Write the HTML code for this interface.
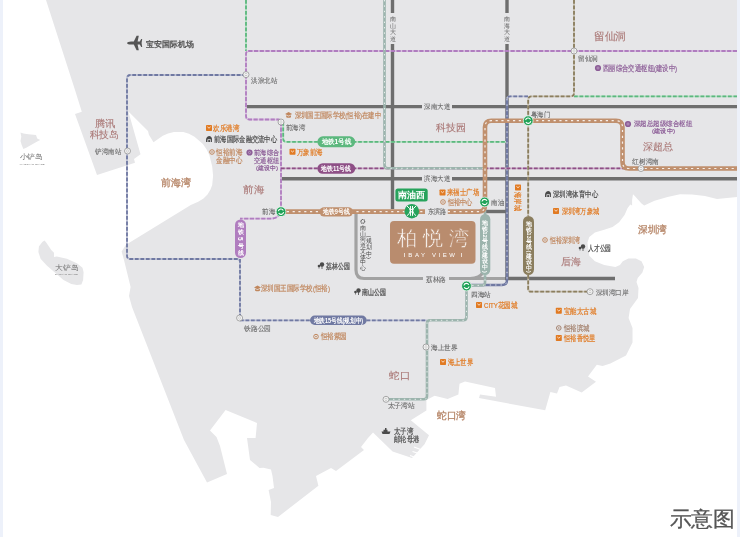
<!DOCTYPE html><html><head><meta charset="utf-8"><style>html,body{margin:0;padding:0;background:#fff;overflow:hidden}svg{display:block;font-family:"Liberation Sans",sans-serif;will-change:transform}</style></head><body><svg width="740" height="537" viewBox="0 0 740 537">
<rect width="740" height="537" fill="#ffffff"/>
<polygon points="46,0 737,0 737,197 717,199 705,196 692,194.5 680,194.3 667.5,197.1 654.5,200.8 644.2,205.5 641.5,203.6 635,196.2 633,194.3 632.1,199.9 632.1,205.5 630.3,204.6 627.5,208.3 624.7,214.8 619.1,222.2 612.6,226.9 604.2,229.7 594.9,232.5 589.3,237.1 587.4,242.7 588.4,249.2 589.3,255.8 594.9,261.3 604.2,265.1 615.4,266.9 620,265.1 622.8,261.3 628.4,258.6 635.9,258.6 641.5,261.3 644.2,266.9 642.4,272.5 637.7,278.1 636.5,282 638.5,288 638,298 630,309 628.6,318 632.5,328 632.5,342.6 626,355.6 610.4,363.4 602.6,366 596.8,364.7 588,376.5 596,381.7 581.7,392.6 566,385.6 559.5,387 557,393.4 550.4,392 545.2,410.3 479,398 480,394.6 496,396.8 495,388 465,381.6 459.5,383.8 458.4,394.6 447.6,399 434.6,395.7 426.4,400 426.4,410.4 410.8,420.2 429,435.2 424.5,444.3 412,458 392.6,451.5 373,432.5 368,438 361,447 364,450 336,471 331,468 316,476 318.4,485.7 278,517 270.7,515 271,502 268.6,490 274,488 272.5,476 271,469.5 263.4,467.7 259.5,468 250,460 247,438 255.6,438 257,423 225.6,410 210,430.4 216.5,437 220,446 227,474 207,482.5 184,440 132,307 129,296 130.6,287 124,260 121.6,251.4 126,244.7 190.8,205 198.2,201.8 203.5,198.5 207.5,194.4 210.5,189.5 212.2,185 213.1,175.8 212.2,166.5 209.4,155.3 206.5,149.3 202.9,144.1 194.5,136.7 189,133.8 183.3,132 174,132 168,133.5 162.8,135.7 153.5,142.2 148.9,134.8 148,131 128.4,111.5 140.5,154.3 134,159 135,162.7 97,175 75,114 81.8,111.8 75,90" fill="#e6e6e8"/>
<polygon points="20.5,132.5 23.4,133.4 28.4,134.2 36,135 37.2,138.4 40.2,140 36.8,141.7 31,145 26.7,147.6 23.4,148.9 21.7,145 20.5,140.9 21.3,136.7" fill="#e6e6e8"/>
<polygon points="44.5,240.4 46.2,242.6 49.6,247.6 51.2,249.9 54,252.7 54,257.1 56.8,256.6 66.9,258.8 76.9,263.3 82.5,267.8 83.6,272.2 83.1,280 81.4,284.5 76.9,285 71.3,284 63.5,280 55.7,273.3 46.8,265.5 40.6,258.8 38.4,252.1 38.9,246.5 42.3,242" fill="#e6e6e8"/>
<line x1="414" y1="447" x2="422" y2="450" stroke="#fff" stroke-width="1.2"/>
<line x1="412.5" y1="451.5" x2="420.5" y2="454" stroke="#fff" stroke-width="1.2"/>
<line x1="410" y1="455.5" x2="418" y2="458.5" stroke="#fff" stroke-width="1.2"/>
<rect x="0" y="0" width="3" height="537" fill="#edf1fa"/>
<rect x="737" y="0" width="3" height="537" fill="#edf1fa"/>
<line x1="392.5" y1="0" x2="392.5" y2="13" stroke="#6e6e6e" stroke-width="3.4"/>
<line x1="392.5" y1="44" x2="392.5" y2="209" stroke="#6e6e6e" stroke-width="3.4"/>
<line x1="507" y1="0" x2="507" y2="13" stroke="#6e6e6e" stroke-width="3.4"/>
<line x1="507" y1="44" x2="507" y2="279" stroke="#6e6e6e" stroke-width="3.4"/>
<line x1="246" y1="106.6" x2="422" y2="106.6" stroke="#6e6e6e" stroke-width="3.4"/>
<line x1="452" y1="106.6" x2="737" y2="106.6" stroke="#6e6e6e" stroke-width="3.4"/>
<line x1="281" y1="178.8" x2="422" y2="178.8" stroke="#6e6e6e" stroke-width="3.4"/>
<line x1="452" y1="178.8" x2="737" y2="178.8" stroke="#6e6e6e" stroke-width="3.4"/>
<line x1="486" y1="211.5" x2="507" y2="211.5" stroke="#6e6e6e" stroke-width="3.4"/>
<line x1="505" y1="278.5" x2="615" y2="278.5" stroke="#6e6e6e" stroke-width="3.4"/>
<path d="M356,214 V270 Q356,278.5 364,278.5 H423 M449,278.5 H505" fill="none" stroke="#a2a2a2" stroke-width="3.2"/>
<path d="M470,278.5 Q480,278.5 483,272" fill="none" stroke="#a2a2a2" stroke-width="3"/>
<path d="M246,0 V51" fill="none" stroke="#b5dfc4" stroke-width="1.8" stroke-linejoin="round"/>
<path d="M246,0 V51" fill="none" stroke="#5cb87e" stroke-width="1.8" stroke-dasharray="3.7 1.8" stroke-linejoin="round"/>
<path d="M737,51 H249 Q246,51 246,54 V116 Q246,119.5 249.5,119.5 H278 Q281,119.5 281,122.5 V208 Q281,218.7 270,218.7 H240" fill="none" stroke="#dbc4e2" stroke-width="1.8" stroke-linejoin="round"/>
<path d="M737,51 H249 Q246,51 246,54 V116 Q246,119.5 249.5,119.5 H278 Q281,119.5 281,122.5 V208 Q281,218.7 270,218.7 H240" fill="none" stroke="#b07dbf" stroke-width="1.8" stroke-dasharray="4.2 1.5" stroke-linejoin="round"/>
<path d="M246,75 H130.5 Q127,75 127,78.5 V255.5 Q127,259 130.5,259 H237 Q240,259 240,262" fill="none" stroke="#bec2d5" stroke-width="1.8" stroke-linejoin="round"/>
<path d="M246,75 H130.5 Q127,75 127,78.5 V255.5 Q127,259 130.5,259 H237 Q240,259 240,262" fill="none" stroke="#7079a2" stroke-width="1.8" stroke-dasharray="3.7 1.8" stroke-linejoin="round"/>
<path d="M240,259 V318 M240,320.3 H427" fill="none" stroke="#bec2d5" stroke-width="1.8" stroke-linejoin="round"/>
<path d="M240,259 V318 M240,320.3 H427" fill="none" stroke="#7079a2" stroke-width="1.8" stroke-dasharray="3.7 1.8" stroke-linejoin="round"/>
<path d="M528,96.4 H510 Q507,96.4 507,99.4" fill="none" stroke="#bec2d5" stroke-width="1.8" stroke-linejoin="round"/>
<path d="M528,96.4 H510 Q507,96.4 507,99.4" fill="none" stroke="#7079a2" stroke-width="1.8" stroke-dasharray="3.7 1.8" stroke-linejoin="round"/>
<path d="M507,99 V280 Q507,285 502,285 H470" fill="none" stroke="#7079a2" stroke-width="2.5" stroke-linejoin="round"/>
<path d="M507,99 V280 Q507,285 502,285 H470" fill="none" stroke="#ffffff" stroke-width="0.9" stroke-dasharray="1.4 4" opacity="0.85"/>
<path d="M283.2,122 V138.8 Q283.2,141.8 286.2,141.8 H506" fill="none" stroke="#b5dfc4" stroke-width="1.8" stroke-linejoin="round"/>
<path d="M283.2,122 V138.8 Q283.2,141.8 286.2,141.8 H506" fill="none" stroke="#5cb87e" stroke-width="1.8" stroke-dasharray="3.7 1.8" stroke-linejoin="round"/>
<path d="M574,96.4 H737" fill="none" stroke="#b5dfc4" stroke-width="1.8" stroke-linejoin="round"/>
<path d="M574,96.4 H737" fill="none" stroke="#5cb87e" stroke-width="1.8" stroke-dasharray="3.7 1.8" stroke-linejoin="round"/>
<path d="M281,168.4 H737" fill="none" stroke="#ccafc8" stroke-width="1.8" stroke-linejoin="round"/>
<path d="M281,168.4 H737" fill="none" stroke="#8e4f86" stroke-width="1.8" stroke-dasharray="3.7 1.8" stroke-linejoin="round"/>
<path d="M384.5,0 V165 Q384.5,168.3 387.8,168.3 H482 Q485,168.3 485,171 V274" fill="none" stroke="#9cb4ad" stroke-width="2.6" stroke-linejoin="round"/>
<path d="M384.5,0 V165 Q384.5,168.3 387.8,168.3 H482 Q485,168.3 485,171 V274" fill="none" stroke="#ffffff" stroke-width="0.9" stroke-dasharray="1.4 4" opacity="0.85"/>
<path d="M485,274 V282.4 Q485,285.4 482,285.4 H466.5 V317 Q466.5,320.3 463.2,320.3 H430 Q427,320.3 427,323.3 V396 Q427,399.3 423.7,399.3 H386" fill="none" stroke="#9cb4ad" stroke-width="2.6" stroke-linejoin="round"/>
<path d="M485,274 V282.4 Q485,285.4 482,285.4 H466.5 V317 Q466.5,320.3 463.2,320.3 H430 Q427,320.3 427,323.3 V396 Q427,399.3 423.7,399.3 H386" fill="none" stroke="#ffffff" stroke-width="0.9" stroke-dasharray="1.4 4" opacity="0.85"/>
<path d="M574,0 V93 Q574,96.4 570.6,96.4 H531.6 Q528.2,96.4 528.2,99.8 V216" fill="none" stroke="#cac4b6" stroke-width="1.8" stroke-linejoin="round"/>
<path d="M574,0 V93 Q574,96.4 570.6,96.4 H531.6 Q528.2,96.4 528.2,99.8 V216" fill="none" stroke="#8b7e5e" stroke-width="1.8" stroke-dasharray="3.7 1.8" stroke-linejoin="round"/>
<path d="M528.2,275 V288.7 Q528.2,291.7 531.2,291.7 H590" fill="none" stroke="#cac4b6" stroke-width="1.8" stroke-linejoin="round"/>
<path d="M528.2,275 V288.7 Q528.2,291.7 531.2,291.7 H590" fill="none" stroke="#8b7e5e" stroke-width="1.8" stroke-dasharray="3.7 1.8" stroke-linejoin="round"/>
<path d="M281,211.6 H425 M447.8,211.6 H478.7 Q485,211.6 485,205.3 V127 Q485,120.7 491.3,120.7 H616 Q622.5,120.7 622.5,127.2 V162 Q622.5,168.5 629,168.5 H737" fill="none" stroke="#c0906e" stroke-width="4.6" stroke-linejoin="round"/>
<path d="M281,211.6 H425 M447.8,211.6 H478.7 Q485,211.6 485,205.3 V127 Q485,120.7 491.3,120.7 H616 Q622.5,120.7 622.5,127.2 V162 Q622.5,168.5 629,168.5 H737" fill="none" stroke="#ffffff" stroke-width="1.2" stroke-dasharray="2.2 3.6" opacity="0.85"/>
<rect x="317.4" y="136.3" width="37.80000000000001" height="11.0" rx="5.5" fill="#5cb87e"/>
<text x="336.29999999999995" y="144.464" font-size="7.2" fill="#fff" text-anchor="middle" textLength="29.6" lengthAdjust="spacingAndGlyphs" font-weight="bold">地铁1号线</text>
<rect x="317.4" y="163.2" width="37.80000000000001" height="10.600000000000023" rx="5.300000000000011" fill="#8e4f86"/>
<text x="336.29999999999995" y="171.164" font-size="7.2" fill="#fff" text-anchor="middle" textLength="29.8" lengthAdjust="spacingAndGlyphs" font-weight="bold">地铁11号线</text>
<rect x="319.5" y="207.2" width="33.5" height="9.300000000000011" rx="4.650000000000006" fill="#c0906e"/>
<text x="336.25" y="214.36599999999999" font-size="6.8" fill="#fff" text-anchor="middle" textLength="26.5" lengthAdjust="spacingAndGlyphs" font-weight="bold">地铁9号线</text>
<rect x="310" y="315.5" width="56.69999999999999" height="9.5" rx="4.75" fill="#7079a2"/>
<text x="338.35" y="322.692" font-size="6.6" fill="#fff" text-anchor="middle" textLength="49.6" lengthAdjust="spacingAndGlyphs" font-weight="bold">地铁15号线(规划中)</text>
<rect x="235" y="219.5" width="11" height="38.5" rx="5.5" fill="#b07dbf"/>
<rect x="480" y="214" width="10.300000000000011" height="61" rx="5.150000000000006" fill="#9cb4ad"/>
<rect x="523" y="216" width="11" height="59" rx="5.5" fill="#8b7e5e"/>
<text x="240.5" y="227.254" font-size="6.4" fill="#fff" text-anchor="middle" font-weight="bold">地</text>
<text x="240.5" y="234.154" font-size="6.4" fill="#fff" text-anchor="middle" font-weight="bold">铁</text>
<text x="240.5" y="238.75" font-size="6.4" fill="#fff" text-anchor="middle" dominant-baseline="central" transform="rotate(90 240.5 238.75)" font-weight="bold">5</text>
<text x="240.5" y="247.954" font-size="6.4" fill="#fff" text-anchor="middle" font-weight="bold">号</text>
<text x="240.5" y="254.854" font-size="6.4" fill="#fff" text-anchor="middle" font-weight="bold">线</text>
<text x="485" y="224.62961797752808" font-size="5.9" fill="#fff" text-anchor="middle" font-weight="bold">地</text>
<text x="485" y="230.64085393258426" font-size="5.9" fill="#fff" text-anchor="middle" font-weight="bold">铁</text>
<text x="485" y="234.52808988764045" font-size="5.9" fill="#fff" text-anchor="middle" dominant-baseline="central" transform="rotate(90 485 234.52808988764045)" font-weight="bold">12</text>
<text x="485" y="242.66332584269662" font-size="5.9" fill="#fff" text-anchor="middle" font-weight="bold">号</text>
<text x="485" y="248.6745617977528" font-size="5.9" fill="#fff" text-anchor="middle" font-weight="bold">线</text>
<text x="485" y="250.90870786516854" font-size="5.9" fill="#fff" text-anchor="middle" dominant-baseline="central" transform="rotate(90 485 250.90870786516854)" font-weight="bold">(</text>
<text x="485" y="257.39085393258426" font-size="5.9" fill="#fff" text-anchor="middle" font-weight="bold">建</text>
<text x="485" y="263.4020898876405" font-size="5.9" fill="#fff" text-anchor="middle" font-weight="bold">设</text>
<text x="485" y="269.4133258426967" font-size="5.9" fill="#fff" text-anchor="middle" font-weight="bold">中</text>
<text x="485" y="271.64747191011236" font-size="5.9" fill="#fff" text-anchor="middle" dominant-baseline="central" transform="rotate(90 485 271.64747191011236)" font-weight="bold">)</text>
<text x="528.5" y="226.04534831460674" font-size="5.9" fill="#fff" text-anchor="middle" font-weight="bold">地</text>
<text x="528.5" y="231.88804494382023" font-size="5.9" fill="#fff" text-anchor="middle" font-weight="bold">铁</text>
<text x="528.5" y="235.60674157303373" font-size="5.9" fill="#fff" text-anchor="middle" dominant-baseline="central" transform="rotate(90 528.5 235.60674157303373)" font-weight="bold">13</text>
<text x="528.5" y="243.57343820224722" font-size="5.9" fill="#fff" text-anchor="middle" font-weight="bold">号</text>
<text x="528.5" y="249.4161348314607" font-size="5.9" fill="#fff" text-anchor="middle" font-weight="bold">线</text>
<text x="528.5" y="251.5280898876405" font-size="5.9" fill="#fff" text-anchor="middle" dominant-baseline="central" transform="rotate(90 528.5 251.5280898876405)" font-weight="bold">(</text>
<text x="528.5" y="257.88804494382026" font-size="5.9" fill="#fff" text-anchor="middle" font-weight="bold">建</text>
<text x="528.5" y="263.73074157303375" font-size="5.9" fill="#fff" text-anchor="middle" font-weight="bold">设</text>
<text x="528.5" y="269.57343820224725" font-size="5.9" fill="#fff" text-anchor="middle" font-weight="bold">中</text>
<text x="528.5" y="271.685393258427" font-size="5.9" fill="#fff" text-anchor="middle" dominant-baseline="central" transform="rotate(90 528.5 271.685393258427)" font-weight="bold">)</text>
<circle cx="246" cy="74.6" r="3" fill="#f6f6f6" stroke="#8e8e8e" stroke-width="0.75"/>
<path d="M244.7,74.0 Q246,72.8 247.3,74.0 M244.7,75.19999999999999 Q246,76.39999999999999 247.3,75.19999999999999" fill="none" stroke="#a8a8a8" stroke-width="0.6"/>
<circle cx="281" cy="122" r="3" fill="#f6f6f6" stroke="#8e8e8e" stroke-width="0.75"/>
<path d="M279.7,121.4 Q281,120.2 282.3,121.4 M279.7,122.6 Q281,123.8 282.3,122.6" fill="none" stroke="#a8a8a8" stroke-width="0.6"/>
<circle cx="127.5" cy="151" r="3" fill="#f6f6f6" stroke="#8e8e8e" stroke-width="0.75"/>
<path d="M126.2,150.4 Q127.5,149.2 128.8,150.4 M126.2,151.6 Q127.5,152.8 128.8,151.6" fill="none" stroke="#a8a8a8" stroke-width="0.6"/>
<circle cx="574" cy="51" r="3" fill="#f6f6f6" stroke="#8e8e8e" stroke-width="0.75"/>
<path d="M572.7,50.4 Q574,49.2 575.3,50.4 M572.7,51.6 Q574,52.8 575.3,51.6" fill="none" stroke="#a8a8a8" stroke-width="0.6"/>
<circle cx="641" cy="168.5" r="3" fill="#f6f6f6" stroke="#8e8e8e" stroke-width="0.75"/>
<path d="M639.7,167.9 Q641,166.7 642.3,167.9 M639.7,169.1 Q641,170.3 642.3,169.1" fill="none" stroke="#a8a8a8" stroke-width="0.6"/>
<circle cx="239.6" cy="318" r="3" fill="#f6f6f6" stroke="#8e8e8e" stroke-width="0.75"/>
<path d="M238.29999999999998,317.4 Q239.6,316.2 240.9,317.4 M238.29999999999998,318.6 Q239.6,319.8 240.9,318.6" fill="none" stroke="#a8a8a8" stroke-width="0.6"/>
<circle cx="426" cy="347" r="3" fill="#f6f6f6" stroke="#8e8e8e" stroke-width="0.75"/>
<path d="M424.7,346.4 Q426,345.2 427.3,346.4 M424.7,347.6 Q426,348.8 427.3,347.6" fill="none" stroke="#a8a8a8" stroke-width="0.6"/>
<circle cx="386" cy="399.3" r="3" fill="#f6f6f6" stroke="#8e8e8e" stroke-width="0.75"/>
<path d="M384.7,398.7 Q386,397.5 387.3,398.7 M384.7,399.90000000000003 Q386,401.1 387.3,399.90000000000003" fill="none" stroke="#a8a8a8" stroke-width="0.6"/>
<circle cx="590" cy="291.7" r="3" fill="#f6f6f6" stroke="#8e8e8e" stroke-width="0.75"/>
<path d="M588.7,291.09999999999997 Q590,289.9 591.3,291.09999999999997 M588.7,292.3 Q590,293.5 591.3,292.3" fill="none" stroke="#a8a8a8" stroke-width="0.6"/>
<circle cx="281" cy="211.7" r="4.9" fill="#1fa257" stroke="#fff" stroke-width="0.7"/>
<path d="M278.4,211.2 A2.6,2.6 0 0 1 283.3,210.5 M283.6,212.2 A2.6,2.6 0 0 1 278.7,212.89999999999998" fill="none" stroke="#fff" stroke-width="1.1"/>
<circle cx="528.2" cy="120.7" r="4.9" fill="#1fa257" stroke="#fff" stroke-width="0.7"/>
<path d="M525.6,120.2 A2.6,2.6 0 0 1 530.5,119.5 M530.8000000000001,121.2 A2.6,2.6 0 0 1 525.9000000000001,121.9" fill="none" stroke="#fff" stroke-width="1.1"/>
<circle cx="484.6" cy="202" r="4.9" fill="#1fa257" stroke="#fff" stroke-width="0.7"/>
<path d="M482.0,201.5 A2.6,2.6 0 0 1 486.90000000000003,200.8 M487.20000000000005,202.5 A2.6,2.6 0 0 1 482.3,203.2" fill="none" stroke="#fff" stroke-width="1.1"/>
<circle cx="466.5" cy="286" r="4.9" fill="#1fa257" stroke="#fff" stroke-width="0.7"/>
<path d="M463.9,285.5 A2.6,2.6 0 0 1 468.8,284.8 M469.1,286.5 A2.6,2.6 0 0 1 464.2,287.2" fill="none" stroke="#fff" stroke-width="1.1"/>
<rect x="395.4" y="188.4" width="32.3" height="13.1" rx="2.5" fill="#27a35c"/>
<text x="411.5" y="198.1" font-size="9" fill="#fff" text-anchor="middle" textLength="27" lengthAdjust="spacingAndGlyphs" font-weight="bold">南油西</text>
<circle cx="411.8" cy="211.2" r="7.3" fill="#27a35c"/>
<path d="M410.45,206 V215.8 M412.5,206 V215.8 M410.45,209.4 H412.5 M410.45,211.9 H412.5 M407,206 Q413.6,210.8 407,215.7 M416,206 Q409.4,210.8 416,215.7" fill="none" stroke="#fff" stroke-width="1"/>
<rect x="390" y="221" width="85.5" height="42.8" rx="4" fill="#b98c6e"/>
<text x="432.8" y="244.6" font-size="19.5" fill="#fff" stroke="#b98c6e" stroke-width="0.5" text-anchor="middle" textLength="72" lengthAdjust="spacing">柏悦湾</text>
<text x="433" y="257.2" font-size="6" fill="#fff" text-anchor="middle" letter-spacing="2.6">BAY VIEW</text>
<rect x="404" y="253" width="0.7" height="4" fill="#fff"/><rect x="461" y="253" width="0.7" height="4" fill="#fff"/>
<text x="594" y="39.78" font-size="10.5" fill="#a97674" textLength="32" lengthAdjust="spacingAndGlyphs" stroke="#a97674" stroke-width="0.1">留仙洞</text>
<text x="435.5" y="131.1" font-size="10" fill="#a97674" textLength="30.0" lengthAdjust="spacingAndGlyphs" stroke="#a97674" stroke-width="0.1">科技园</text>
<text x="243" y="192.6" font-size="10" fill="#a97674" textLength="21" lengthAdjust="spacingAndGlyphs" stroke="#a97674" stroke-width="0.1">前海</text>
<text x="94.5" y="126.6" font-size="10" fill="#a97674" textLength="20.5" lengthAdjust="spacingAndGlyphs" stroke="#a97674" stroke-width="0.1">腾讯</text>
<text x="89.5" y="137.6" font-size="10" fill="#a97674" textLength="29.5" lengthAdjust="spacingAndGlyphs" stroke="#a97674" stroke-width="0.1">科技岛</text>
<text x="643" y="149.6" font-size="10" fill="#a97674" textLength="30" lengthAdjust="spacingAndGlyphs" stroke="#a97674" stroke-width="0.1">深超总</text>
<text x="561" y="264.6" font-size="10" fill="#a97674" textLength="20" lengthAdjust="spacingAndGlyphs" stroke="#a97674" stroke-width="0.1">后海</text>
<text x="389" y="378.6" font-size="10" fill="#a97674" textLength="21" lengthAdjust="spacingAndGlyphs" stroke="#a97674" stroke-width="0.1">蛇口</text>
<text x="161" y="186.42" font-size="9.5" fill="#b68567" textLength="30" lengthAdjust="spacingAndGlyphs" stroke="#b68567" stroke-width="0.3">前海湾</text>
<text x="638" y="233.42" font-size="9.5" fill="#b68567" textLength="29" lengthAdjust="spacingAndGlyphs" stroke="#b68567" stroke-width="0.3">深圳湾</text>
<text x="437" y="419.42" font-size="9.5" fill="#b68567" textLength="29" lengthAdjust="spacingAndGlyphs" stroke="#b68567" stroke-width="0.3">蛇口湾</text>
<text x="251" y="83.02" font-size="7" fill="#6a6a6a" textLength="26" lengthAdjust="spacingAndGlyphs" stroke="#6a6a6a" stroke-width="0.1">洪浪北站</text>
<text x="285.8" y="130.22" font-size="7" fill="#6a6a6a" textLength="19.19999999999999" lengthAdjust="spacingAndGlyphs" stroke="#6a6a6a" stroke-width="0.1">前海湾</text>
<text x="262" y="214.02" font-size="7" fill="#6a6a6a" textLength="13" lengthAdjust="spacingAndGlyphs" stroke="#6a6a6a" stroke-width="0.1">前海</text>
<text x="95" y="154.02" font-size="7" fill="#6a6a6a" textLength="26" lengthAdjust="spacingAndGlyphs" stroke="#6a6a6a" stroke-width="0.1">铲湾南站</text>
<text x="578" y="61.02" font-size="7" fill="#6a6a6a" textLength="20" lengthAdjust="spacingAndGlyphs" stroke="#6a6a6a" stroke-width="0.1">留仙洞</text>
<text x="530.7" y="116.52" font-size="7" fill="#6a6a6a" textLength="19.299999999999955" lengthAdjust="spacingAndGlyphs" stroke="#6a6a6a" stroke-width="0.1">粤海门</text>
<text x="632" y="164.02" font-size="7" fill="#6a6a6a" textLength="27" lengthAdjust="spacingAndGlyphs" stroke="#6a6a6a" stroke-width="0.1">红树湾南</text>
<text x="491" y="205.02" font-size="7" fill="#6a6a6a" textLength="13" lengthAdjust="spacingAndGlyphs" stroke="#6a6a6a" stroke-width="0.1">南油</text>
<text x="427.7" y="214.02" font-size="7" fill="#6a6a6a" textLength="18.30000000000001" lengthAdjust="spacingAndGlyphs" stroke="#6a6a6a" stroke-width="0.1">东滨路</text>
<text x="471" y="296.52" font-size="7" fill="#6a6a6a" textLength="20" lengthAdjust="spacingAndGlyphs" stroke="#6a6a6a" stroke-width="0.1">四海站</text>
<text x="244" y="330.52" font-size="7" fill="#6a6a6a" textLength="27" lengthAdjust="spacingAndGlyphs" stroke="#6a6a6a" stroke-width="0.1">铁路公园</text>
<text x="431" y="350.02" font-size="7" fill="#6a6a6a" textLength="26.5" lengthAdjust="spacingAndGlyphs" stroke="#6a6a6a" stroke-width="0.1">海上世界</text>
<text x="387.5" y="408.02" font-size="7" fill="#6a6a6a" textLength="27.5" lengthAdjust="spacingAndGlyphs" stroke="#6a6a6a" stroke-width="0.1">太子湾站</text>
<text x="595.5" y="294.71999999999997" font-size="7" fill="#6a6a6a" textLength="33.10000000000002" lengthAdjust="spacingAndGlyphs" stroke="#6a6a6a" stroke-width="0.1">深圳湾口岸</text>
<text x="424" y="109.32" font-size="7" fill="#5e5e5e" textLength="26" lengthAdjust="spacingAndGlyphs" stroke="#5e5e5e" stroke-width="0.05">深南大道</text>
<text x="424" y="181.32000000000002" font-size="7" fill="#5e5e5e" textLength="26" lengthAdjust="spacingAndGlyphs" stroke="#5e5e5e" stroke-width="0.05">滨海大道</text>
<text x="426" y="281.52" font-size="7" fill="#5e5e5e" textLength="20" lengthAdjust="spacingAndGlyphs" stroke="#5e5e5e" stroke-width="0.05">荔林路</text>
<text x="392.5" y="21.0805" font-size="6.3" fill="#5e5e5e" text-anchor="middle">南</text>
<text x="392.5" y="27.7055" font-size="6.3" fill="#5e5e5e" text-anchor="middle">山</text>
<text x="392.5" y="34.3305" font-size="6.3" fill="#5e5e5e" text-anchor="middle">大</text>
<text x="392.5" y="40.9555" font-size="6.3" fill="#5e5e5e" text-anchor="middle">道</text>
<text x="507" y="21.0805" font-size="6.3" fill="#5e5e5e" text-anchor="middle">南</text>
<text x="507" y="27.7055" font-size="6.3" fill="#5e5e5e" text-anchor="middle">海</text>
<text x="507" y="34.3305" font-size="6.3" fill="#5e5e5e" text-anchor="middle">大</text>
<text x="507" y="40.9555" font-size="6.3" fill="#5e5e5e" text-anchor="middle">道</text>
<path d="M127,43 Q127.5,41.4 131,41.4 L133.8,41.4 L136.6,35.8 L138.8,35.8 L137.6,41.4 L139.8,41.4 L141.2,39 L142.2,39 L141.6,43 L142.2,47 L141.2,47 L139.8,44.6 L137.6,44.6 L138.8,50.2 L136.6,50.2 L133.8,44.6 L131,44.6 Q127.5,44.6 127,43 Z" fill="#555"/>
<text x="145.6" y="46.68" font-size="8" fill="#555" textLength="47.900000000000006" lengthAdjust="spacingAndGlyphs" stroke="#555" stroke-width="0.35">宝安国际机场</text>
<text x="19.6" y="158.92000000000002" font-size="7" fill="#707070" textLength="23.4" lengthAdjust="spacingAndGlyphs">小铲岛</text>
<text x="19.6" y="164.72" font-size="2" fill="#707070" textLength="25.199999999999996" lengthAdjust="spacingAndGlyphs">XIAOCHAN ISLAND</text>
<text x="55.1" y="269.71999999999997" font-size="7" fill="#707070" textLength="23.499999999999993" lengthAdjust="spacingAndGlyphs">大铲岛</text>
<text x="55.1" y="274.62" font-size="2" fill="#707070" textLength="22.9" lengthAdjust="spacingAndGlyphs">DACHAN ISLAND</text>
<rect x="206" y="125" width="6" height="6" rx="0.7" fill="#e17a22"/>
<path d="M207.4,126.8 Q209,129.6 210.6,126.8" fill="none" stroke="#fff" stroke-width="0.75"/>
<text x="213" y="130.7" font-size="7.5" fill="#e17a22" textLength="26" lengthAdjust="spacingAndGlyphs" stroke="#e17a22" stroke-width="0.2">欢乐港湾</text>
<rect x="289.5" y="148.8" width="6" height="6" rx="0.7" fill="#e17a22"/>
<path d="M290.9,150.60000000000002 Q292.5,153.4 294.1,150.60000000000002" fill="none" stroke="#fff" stroke-width="0.75"/>
<text x="296.7" y="154.5" font-size="7.5" fill="#e17a22" textLength="25.69999999999999" lengthAdjust="spacingAndGlyphs" stroke="#e17a22" stroke-width="0.2">万象前海</text>
<rect x="439.5" y="189.5" width="6" height="6" rx="0.7" fill="#e17a22"/>
<path d="M440.9,191.3 Q442.5,194.1 444.1,191.3" fill="none" stroke="#fff" stroke-width="0.75"/>
<text x="447" y="195.2" font-size="7.5" fill="#e17a22" textLength="32" lengthAdjust="spacingAndGlyphs" stroke="#e17a22" stroke-width="0.2">来福士广场</text>
<rect x="553" y="208" width="6" height="6" rx="0.7" fill="#e17a22"/>
<path d="M554.4,209.8 Q556,212.6 557.6,209.8" fill="none" stroke="#fff" stroke-width="0.75"/>
<text x="561.6" y="213.7" font-size="7.5" fill="#e17a22" textLength="37.39999999999998" lengthAdjust="spacingAndGlyphs" stroke="#e17a22" stroke-width="0.2">深圳湾万象城</text>
<rect x="476" y="302" width="6" height="6" rx="0.7" fill="#e17a22"/>
<path d="M477.4,303.8 Q479,306.6 480.6,303.8" fill="none" stroke="#fff" stroke-width="0.75"/>
<text x="484" y="307.7" font-size="7.5" fill="#e17a22" textLength="33.5" lengthAdjust="spacingAndGlyphs" stroke="#e17a22" stroke-width="0.2">CITY花园城</text>
<rect x="440" y="359" width="6" height="6" rx="0.7" fill="#e17a22"/>
<path d="M441.4,360.8 Q443,363.6 444.6,360.8" fill="none" stroke="#fff" stroke-width="0.75"/>
<text x="447.5" y="364.7" font-size="7.5" fill="#e17a22" textLength="25.5" lengthAdjust="spacingAndGlyphs" stroke="#e17a22" stroke-width="0.2">海上世界</text>
<rect x="555.8" y="307.8" width="6" height="6" rx="0.7" fill="#e17a22"/>
<path d="M557.1999999999999,309.6 Q558.8,312.40000000000003 560.4,309.6" fill="none" stroke="#fff" stroke-width="0.75"/>
<text x="564" y="313.5" font-size="7.5" fill="#e17a22" textLength="32" lengthAdjust="spacingAndGlyphs" stroke="#e17a22" stroke-width="0.2">宝能太古城</text>
<rect x="555.8" y="335" width="6" height="6" rx="0.7" fill="#e17a22"/>
<path d="M557.1999999999999,336.8 Q558.8,339.6 560.4,336.8" fill="none" stroke="#fff" stroke-width="0.75"/>
<text x="564" y="340.7" font-size="7.5" fill="#e17a22" textLength="31.5" lengthAdjust="spacingAndGlyphs" stroke="#e17a22" stroke-width="0.2">恒裕香悦里</text>
<rect x="515" y="184.5" width="6" height="6" rx="0.7" fill="#e17a22"/>
<path d="M516.4,186.3 Q518,189.1 519.6,186.3" fill="none" stroke="#fff" stroke-width="0.75"/>
<text x="518" y="202.2" font-size="7.5" fill="#e17a22" stroke="#e17a22" stroke-width="0.2" text-anchor="middle" dominant-baseline="central" textLength="18.6" lengthAdjust="spacingAndGlyphs" transform="rotate(90 518 201.5)">海岸城</text>
<circle cx="212" cy="152" r="2.3" fill="none" stroke="#c0875e" stroke-width="1"/><circle cx="212" cy="152" r="0.8" fill="#c0875e"/>
<text x="216" y="154.7" font-size="7.5" fill="#c0875e" textLength="26" lengthAdjust="spacingAndGlyphs" stroke="#c0875e" stroke-width="0.2">恒裕前海</text>
<circle cx="443" cy="202" r="2.3" fill="none" stroke="#c0875e" stroke-width="1"/><circle cx="443" cy="202" r="0.8" fill="#c0875e"/>
<text x="447.5" y="204.7" font-size="7.5" fill="#c0875e" textLength="25.0" lengthAdjust="spacingAndGlyphs" stroke="#c0875e" stroke-width="0.2">恒裕中心</text>
<circle cx="545" cy="240" r="2.3" fill="none" stroke="#c0875e" stroke-width="1"/><circle cx="545" cy="240" r="0.8" fill="#c0875e"/>
<text x="550" y="242.7" font-size="7.5" fill="#c0875e" textLength="30" lengthAdjust="spacingAndGlyphs" stroke="#c0875e" stroke-width="0.2">恒裕深圳湾</text>
<circle cx="316" cy="336.6" r="2.3" fill="none" stroke="#c0875e" stroke-width="1"/><circle cx="316" cy="336.6" r="0.8" fill="#c0875e"/>
<text x="320.7" y="339.3" font-size="7.5" fill="#c0875e" textLength="26.30000000000001" lengthAdjust="spacingAndGlyphs" stroke="#c0875e" stroke-width="0.2">恒裕紫园</text>
<text x="216" y="163.2" font-size="7.5" fill="#c0875e" textLength="26" lengthAdjust="spacingAndGlyphs" stroke="#c0875e" stroke-width="0.2">金融中心</text>
<circle cx="558.8" cy="328" r="2.3" fill="none" stroke="#a3806c" stroke-width="1"/><circle cx="558.8" cy="328" r="0.8" fill="#a3806c"/>
<text x="564" y="330.7" font-size="7.5" fill="#a3806c" textLength="25.5" lengthAdjust="spacingAndGlyphs" stroke="#a3806c" stroke-width="0.2">恒裕滨城</text>
<path d="M254.0,287.5 L257.5,285.6 L261.0,287.5 L257.5,289.3 Z M255.1,288.7 V290.7 Q257.5,291.9 259.9,290.7 V288.7 L257.5,290.0 Z" fill="#c0875e"/>
<text x="261" y="291.2" font-size="7.5" fill="#c0875e" textLength="69" lengthAdjust="spacingAndGlyphs" stroke="#c0875e" stroke-width="0.2">深圳国王国际学校(恒裕)</text>
<path d="M285.1,114 L288.6,112.1 L292.1,114 L288.6,115.8 Z M286.20000000000005,115.2 V117.2 Q288.6,118.4 291.0,117.2 V115.2 L288.6,116.5 Z" fill="#c0875e"/>
<text x="294.6" y="117.7" font-size="7.5" fill="#c0875e" textLength="86.39999999999998" lengthAdjust="spacingAndGlyphs" stroke="#c0875e" stroke-width="0.2">深圳国王国际学校(恒裕)在建中</text>
<circle cx="598" cy="68" r="3.1" fill="#8c5d97"/><circle cx="598" cy="68" r="1.1" fill="none" stroke="#fff" stroke-width="0.5" opacity="0.6"/>
<text x="603" y="70.7" font-size="7.5" fill="#8c5d97" textLength="74" lengthAdjust="spacingAndGlyphs" stroke="#8c5d97" stroke-width="0.2">西丽综合交通枢纽(建设中)</text>
<circle cx="628" cy="124" r="3.1" fill="#8c5d97"/><circle cx="628" cy="124" r="1.1" fill="none" stroke="#fff" stroke-width="0.5" opacity="0.6"/>
<text x="634" y="126.176" font-size="6.6" fill="#8c5d97" textLength="58" lengthAdjust="spacingAndGlyphs" stroke="#8c5d97" stroke-width="0.2">深超总超级综合枢纽</text>
<text x="652" y="133.16" font-size="6" fill="#8c5d97" textLength="23" lengthAdjust="spacingAndGlyphs" stroke="#8c5d97" stroke-width="0.2">(建设中)</text>
<circle cx="249.5" cy="152.5" r="3.1" fill="#8c5d97"/><circle cx="249.5" cy="152.5" r="1.1" fill="none" stroke="#fff" stroke-width="0.5" opacity="0.6"/>
<text x="254" y="154.876" font-size="6.6" fill="#8c5d97" textLength="25" lengthAdjust="spacingAndGlyphs" stroke="#8c5d97" stroke-width="0.2">前海综合</text>
<text x="254" y="162.576" font-size="6.6" fill="#8c5d97" textLength="25" lengthAdjust="spacingAndGlyphs" stroke="#8c5d97" stroke-width="0.2">交通枢纽</text>
<text x="256" y="169.732" font-size="6.2" fill="#8c5d97" textLength="22" lengthAdjust="spacingAndGlyphs" stroke="#8c5d97" stroke-width="0.2">(建设中)</text>
<path d="M206,142 V139.5 Q206.5,136 209.5,136 Q212,136.5 212,139.5 V142 Z" fill="#4a4a4a"/>
<path d="M207.8,142 V139.6 H210.6 V142" fill="none" stroke="#e6e6e8" stroke-width="0.8"/>
<text x="214" y="141.7" font-size="7.5" fill="#4a4a4a" textLength="63" lengthAdjust="spacingAndGlyphs" stroke="#4a4a4a" stroke-width="0.2">前海国际金融交流中心</text>
<path d="M545,197 V194.5 Q545.5,191 548.5,191 Q551,191.5 551,194.5 V197 Z" fill="#4a4a4a"/>
<path d="M546.8,197 V194.6 H549.6 V197" fill="none" stroke="#e6e6e8" stroke-width="0.8"/>
<text x="553" y="196.7" font-size="7.5" fill="#4a4a4a" textLength="45" lengthAdjust="spacingAndGlyphs" stroke="#4a4a4a" stroke-width="0.2">深圳湾体育中心</text>
<circle cx="322" cy="264.5" r="2.2" fill="#4a4a4a"/><circle cx="319" cy="266" r="1.3" fill="#4a4a4a"/><rect x="321.6" y="266" width="0.8" height="3" fill="#4a4a4a"/><rect x="318.7" y="266" width="0.6" height="2.6" fill="#4a4a4a"/>
<text x="326" y="268.7" font-size="7.5" fill="#4a4a4a" textLength="24" lengthAdjust="spacingAndGlyphs" stroke="#4a4a4a" stroke-width="0.2">荔林公园</text>
<circle cx="358.5" cy="290.5" r="2.2" fill="#4a4a4a"/><circle cx="355.5" cy="292" r="1.3" fill="#4a4a4a"/><rect x="358.1" y="292" width="0.8" height="3" fill="#4a4a4a"/><rect x="355.2" y="292" width="0.6" height="2.6" fill="#4a4a4a"/>
<text x="362" y="294.7" font-size="7.5" fill="#4a4a4a" textLength="24" lengthAdjust="spacingAndGlyphs" stroke="#4a4a4a" stroke-width="0.2">南山公园</text>
<circle cx="583" cy="246.5" r="2.2" fill="#4a4a4a"/><circle cx="580" cy="248" r="1.3" fill="#4a4a4a"/><rect x="582.6" y="248" width="0.8" height="3" fill="#4a4a4a"/><rect x="579.7" y="248" width="0.6" height="2.6" fill="#4a4a4a"/>
<text x="588" y="250.7" font-size="7.5" fill="#4a4a4a" textLength="23" lengthAdjust="spacingAndGlyphs" stroke="#4a4a4a" stroke-width="0.2">人才公园</text>
<path d="M381.5,431.5 H390.5 L389.5,434 H382.5 Z M383.5,431.5 V429.8 H387.5 V431.5 M385,429.8 V428 H386.5 V429.8" fill="#4a4a4a"/>
<text x="394" y="434.0" font-size="7.5" fill="#4a4a4a" textLength="19.399999999999977" lengthAdjust="spacingAndGlyphs" stroke="#4a4a4a" stroke-width="0.2">太子湾</text>
<text x="394" y="441.7" font-size="7.5" fill="#4a4a4a" textLength="25" lengthAdjust="spacingAndGlyphs" stroke="#4a4a4a" stroke-width="0.2">邮轮母港</text>
<circle cx="362.8" cy="221.4" r="1.9" fill="none" stroke="#4a4a4a" stroke-width="1.1" stroke-dasharray="1 0.5"/>
<text x="362.8" y="230.11175" font-size="6.3" fill="#4a4a4a" text-anchor="middle">南</text>
<text x="362.8" y="235.79925" font-size="6.3" fill="#4a4a4a" text-anchor="middle">山</text>
<text x="362.8" y="241.48675" font-size="6.3" fill="#4a4a4a" text-anchor="middle">街</text>
<text x="362.8" y="247.17425" font-size="6.3" fill="#4a4a4a" text-anchor="middle">道</text>
<text x="362.8" y="252.86175" font-size="6.3" fill="#4a4a4a" text-anchor="middle">文</text>
<text x="362.8" y="258.54925" font-size="6.3" fill="#4a4a4a" text-anchor="middle">体</text>
<text x="362.8" y="264.23675" font-size="6.3" fill="#4a4a4a" text-anchor="middle">中</text>
<text x="362.8" y="269.92425" font-size="6.3" fill="#4a4a4a" text-anchor="middle">心</text>
<text x="369.2" y="236.41346153846155" font-size="6" fill="#4a4a4a" text-anchor="middle" dominant-baseline="central" transform="rotate(90 369.2 236.41346153846155)">(</text>
<text x="369.2" y="243.1279487179487" font-size="6" fill="#4a4a4a" text-anchor="middle">规</text>
<text x="369.2" y="249.40999999999997" font-size="6" fill="#4a4a4a" text-anchor="middle">划</text>
<text x="369.2" y="255.69205128205124" font-size="6" fill="#4a4a4a" text-anchor="middle">中</text>
<text x="369.2" y="258.08653846153845" font-size="6" fill="#4a4a4a" text-anchor="middle" dominant-baseline="central" transform="rotate(90 369.2 258.08653846153845)">)</text>
<text x="669.6" y="525.8599999999999" font-size="21" fill="#555" textLength="65.60000000000002" lengthAdjust="spacingAndGlyphs" stroke="#555" stroke-width="0.3">示意图</text>
</svg></body></html>
